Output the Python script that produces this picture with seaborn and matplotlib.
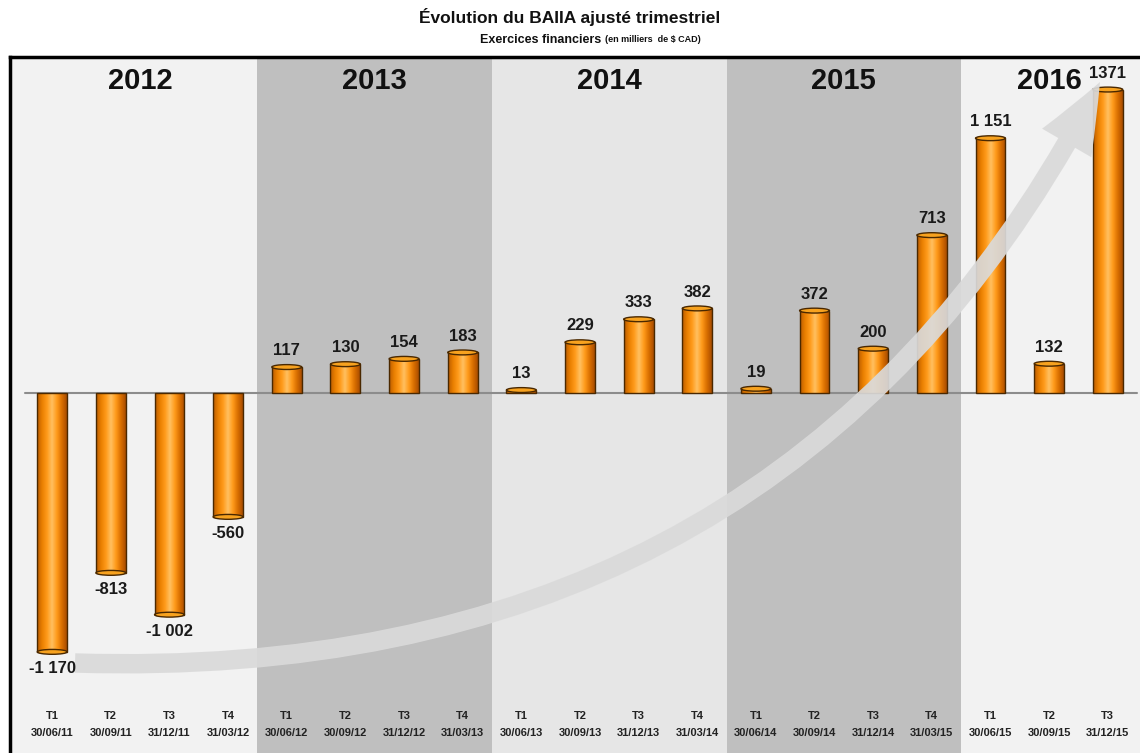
import numpy as np
import pandas as pd
import matplotlib
matplotlib.use("Agg")
import matplotlib.pyplot as plt
import seaborn as sns
from matplotlib.patches import FancyArrowPatch, Ellipse
from matplotlib.path import Path
from matplotlib.colors import LinearSegmentedColormap

# ---------------- data ----------------
quarters = ["T1", "T2", "T3", "T4"] * 4 + ["T1", "T2", "T3"]
dates = ["30/06/11", "30/09/11", "31/12/11", "31/03/12",
         "30/06/12", "30/09/12", "31/12/12", "31/03/13",
         "30/06/13", "30/09/13", "31/12/13", "31/03/14",
         "30/06/14", "30/09/14", "31/12/14", "31/03/15",
         "30/06/15", "30/09/15", "31/12/15"]
values = [-1170, -813, -1002, -560, 117, 130, 154, 183, 13, 229, 333, 382,
          19, 372, 200, 713, 1151, 132, 1371]
value_labels = ["-1 170", "-813", "-1 002", "-560", "117", "130", "154", "183",
                "13", "229", "333", "382", "19", "372", "200", "713",
                "1 151", "132", "1371"]
years = ["2012", "2013", "2014", "2015", "2016"]
bars_per_year = [4, 4, 4, 4, 3]
band_colors = ["#f2f2f2", "#bfbfbf", "#e6e6e6", "#bfbfbf", "#f2f2f2"]

title = "Évolution du BAIIA ajusté trimestriel"
subtitle_main = "Exercices financiers"
subtitle_small = "(en milliers  de $ CAD)"

df = pd.DataFrame({"cat": [f"{q}\n{d}" for q, d in zip(quarters, dates)],
                   "value": values})

# ---------------- figure ----------------
sns.set_theme(style="white")
plt.rcParams["font.family"] = ["Liberation Sans", "DejaVu Sans"]

W, H = 1140, 753
fig = plt.figure(figsize=(W / 100, H / 100), dpi=100)
fig.patch.set_facecolor("white")
ax = fig.add_axes([10 / W, 0.0, 1.0 - 10 / W, 1 - 57 / H])

sns.barplot(data=df, x="cat", y="value", color="#f28c00", width=0.51,
            edgecolor="#4a2800", linewidth=1.0, ax=ax, zorder=3)

xlim = (-0.72, 18.55)
ylim = (-1627, 1518)

# year background bands
start = 0
for yr, n, c in zip(years, bars_per_year, band_colors):
    left = start - 0.5 if start > 0 else xlim[0]
    right = start + n - 0.5 if start + n < len(values) else xlim[1]
    ax.axvspan(left, right, color=c, zorder=0, lw=0)
    ax.text((start + start + n - 1) / 2, 1 - 24 / (H - 57), yr,
            transform=ax.get_xaxis_transform(),
            ha="center", va="center", fontsize=21, fontweight="bold", color="#111111")
    start += n

# zero line
ax.plot([-0.47, xlim[1] - 0.05], [0, 0], color="#8c8c8c", lw=1.5, zorder=1)

# cylinder-like gradient inside bars
cmap = LinearSegmentedColormap.from_list(
    "cyl", ["#b85a00", "#e97f00", "#ff9a1a", "#ffc060", "#ff9a1a", "#d86e00", "#a84c00"])
grad = np.linspace(0, 1, 256).reshape(1, -1)
for p, v, lab in zip(ax.patches, values, value_labels):
    x0, w = p.get_x(), p.get_width()
    y0, h = p.get_y(), p.get_height()
    ylo, yhi = min(y0, y0 + h), max(y0, y0 + h)
    im = ax.imshow(grad, extent=[x0, x0 + w, ylo, yhi], aspect="auto",
                   cmap=cmap, zorder=3, interpolation="bilinear")
    im.set_clip_path(p)
    p.set_facecolor("none")
    p.set_zorder(4)
    end = y0 + h
    ax.add_patch(Ellipse((x0 + w / 2, end), w, 22, facecolor="#f7a21f",
                         edgecolor="#4a2800", lw=1.0, zorder=4.5))
    if v >= 0:
        ax.text(x0 + w / 2, end + 40, lab, ha="center", va="bottom",
                fontsize=12, fontweight="bold", color="#1a1a1a", zorder=6)
    else:
        ax.text(x0 + w / 2, end - 40, lab, ha="center", va="top",
                fontsize=12, fontweight="bold", color="#1a1a1a", zorder=6)

# category labels inside the frame
for i, (q, d) in enumerate(zip(quarters, dates)):
    ax.text(i, (H - 716) / (H - 57), q, transform=ax.get_xaxis_transform(),
            ha="center", va="center", fontsize=8, fontweight="bold", color="#222222")
    ax.text(i, (H - 733) / (H - 57), d, transform=ax.get_xaxis_transform(),
            ha="center", va="center", fontsize=8, fontweight="bold", color="#222222")

ax.set_xlim(*xlim)
ax.set_ylim(*ylim)
ax.set_xticks([])
ax.set_yticks([])
ax.set_xlabel("")
ax.set_ylabel("")
for s in ["right", "bottom"]:
    ax.spines[s].set_visible(False)
for s in ["left", "top"]:
    ax.spines[s].set_visible(True)
    ax.spines[s].set_color("black")
    ax.spines[s].set_linewidth(2.5)

# big curved trend arrow (decoration, figure-pixel coordinates)
def fp(px, py):
    return (px / W, 1 - py / H)

verts = [fp(75, 663), fp(790, 685), fp(1100, 82)]
path = Path(verts, [Path.MOVETO, Path.CURVE3, Path.CURVE3])
arrow = FancyArrowPatch(path=path, transform=fig.transFigure,
                        arrowstyle="simple,head_length=50,head_width=41,tail_width=14",
                        facecolor="#dadada", edgecolor="none", alpha=0.92,
                        zorder=5, mutation_scale=1)
ax.add_patch(arrow)

# titles
fig.text(0.5, 1 - 17 / H, title, ha="center", va="center",
         fontsize=12.5, fontweight="bold", color="#111111")
fig.text(0.5 + 35 / W, 1 - 40 / H, subtitle_main + " ", ha="right", va="center",
         fontsize=9, fontweight="bold", color="#111111")
fig.text(0.5 + 35 / W, 1 - 40 / H, subtitle_small, ha="left", va="center",
         fontsize=6.5, fontweight="bold", color="#111111")

fig.savefig("out.png", dpi=100)
